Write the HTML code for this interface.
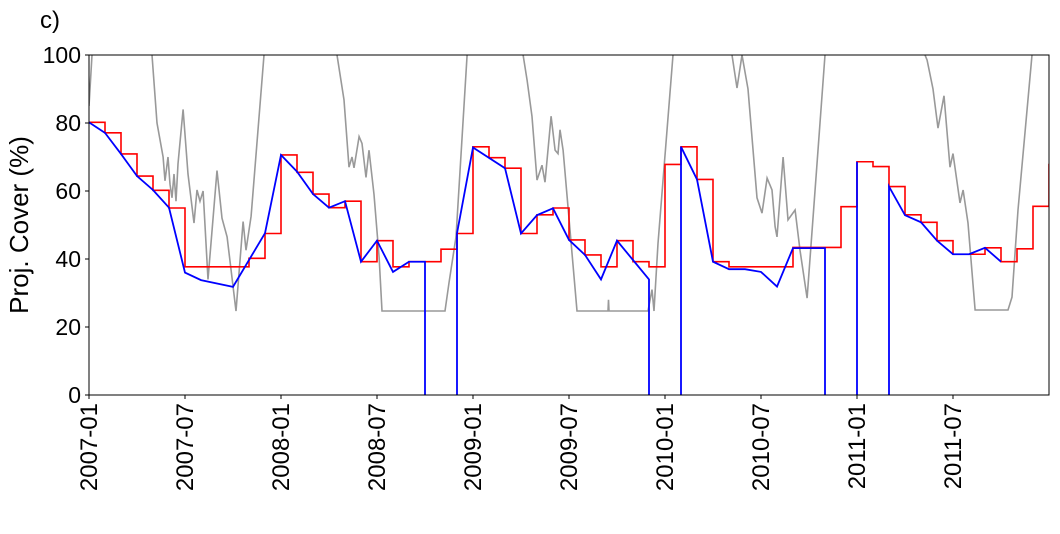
<!DOCTYPE html>
<html><head><meta charset="utf-8"><style>
body{margin:0;background:#fff;}
svg{display:block;font-family:"Liberation Sans","DejaVu Sans",sans-serif;}
</style></head><body>
<svg id="chart" width="1060" height="534" viewBox="0 0 1060 534">
<defs><clipPath id="clip"><rect x="89" y="55" width="960" height="340"/></clipPath></defs>
<text x="40" y="28" font-size="24">c)</text>
<text transform="translate(28,225) rotate(-90)" text-anchor="middle" font-size="26">Proj. Cover (%)</text>
<g id="series" clip-path="url(#clip)"></g>
<rect x="89" y="55" width="960" height="340" fill="none" stroke="#000" stroke-width="1"/>
<g id="axes"></g>
</svg>
<script>
const xTickLabels=["2007-01","2007-07","2008-01","2008-07","2009-01","2009-07","2010-01","2010-07","2011-01","2011-07"];
const xTickMonths=[0,6,12,18,24,30,36,42,48,54];
const yTicks=[0,20,40,60,80,100];
const redValues=[80.2,77.1,70.9,64.4,60.2,55,37.7,37.7,37.7,37.7,40.2,47.5,70.6,65.5,59.1,55.1,57,39.2,45.4,37.7,39.2,39.2,42.9,47.5,73,69.8,66.7,47.5,53,55,45.6,41.2,37.7,45.4,39.2,37.7,67.8,73,63.4,39.2,37.7,37.7,37.7,37.7,43.4,43.4,43.4,55.4,68.6,67.2,61.3,53,50.8,45.4,41.4,41.4,43.3,39.2,43,55.5];
const redEnd=68;
const blueMonths=[0,1,2,3,4,5,6,7,9,11,12,13,14,15,16,17,18,19,20,21,21,null,23,23,24,26,27,28,29,30,31,32,33,35,35,null,37,37,38,39,40,41,42,43,44,45,46,46,null,48,48,48,null,50,50,51,52,53,54,55,56,57];
const blueValues=[80.2,77.1,70.9,64.4,60.3,55.1,36,33.8,31.8,47.6,70.6,65.7,59.1,55.1,57,39.2,45.4,36.2,39.2,39.2,0,null,0,47.6,72.8,66.7,47.5,52.9,54.9,45.6,41.2,34,45.4,34,0,null,0,73,63.4,39.2,37,37,36.2,31.9,43.2,43.2,43.2,0,null,0,68.6,0,null,0,61.3,52.9,50.8,45.4,41.4,41.4,43.3,39.2];
const grayMonths=[0,.19,1.94,3.94,4.25,4.63,4.75,4.94,5.06,5.19,5.31,5.44,5.56,5.88,6.19,6.56,6.75,6.94,7.13,7.44,8,8.31,8.63,9.19,9.63,9.81,10.13,10.94,13.19,15.5,15.94,16.25,16.44,16.56,16.88,17.06,17.31,17.5,17.81,18.13,18.31,22.25,22.5,22.94,23.63,25.38,27.13,27.38,27.69,28,28.31,28.5,28.88,29.13,29.31,29.44,29.63,30.5,32.44,32.47,32.5,34.94,35.19,35.31,35.56,36.5,38.19,40.19,40.5,40.81,41.19,41.75,42.06,42.38,42.69,42.88,43,43.38,43.69,44.13,44.44,44.88,45.25,46,49.13,52.25,52.38,52.75,53.06,53.44,53.81,54,54.44,54.63,54.94,55.38,57.44,57.69,58.06,58.94,60.69];
const grayValues=[85,100,135,100,80,70,63,70,62,58,65,57,68,84,65,50.6,60.3,57,60,34,66,52,46.5,24.7,51,42.6,52.6,100,135,100,86.8,67,70,66.8,76,74,64,72,59,40.6,24.7,24.7,33,46.5,100,135,100,92.6,81.9,63.2,67.6,62.6,82,72,71,78,72,24.7,24.7,28,24.7,24.7,31,24.7,44.6,100,135,100,90.3,100,90,58,53.5,63.8,60.3,49.5,46.5,70,51.5,54.4,42.6,28.5,52,100,135,100,98.5,90,78.5,88,67,71,56.5,60.3,50.6,25,25,28.8,54.4,100,130];

const NS="http://www.w3.org/2000/svg";
const X=m=>89+m*16, Y=v=>395-v*3.4;
const series=document.getElementById('series'), axes=document.getElementById('axes');
function mk(tag,attrs,parent){const e=document.createElementNS(NS,tag);for(const k in attrs)e.setAttribute(k,attrs[k]);parent.appendChild(e);return e;}

let d=grayMonths.map((m,i)=>(i?'L':'M')+X(m).toFixed(1)+','+Y(grayValues[i]).toFixed(1)).join('');
let g=mk('path',{d:d,fill:'none',stroke:'#999','stroke-width':1.6},series);


d='M'+X(0)+','+Y(redValues[0]);
redValues.forEach((v,i)=>{d+='L'+X(i)+','+Y(v)+'L'+X(i+1)+','+Y(v);});
d+='L'+X(60)+','+Y(redEnd);
let r=mk('path',{d:d,fill:'none',stroke:'#f00','stroke-width':1.6},series);


d='';let pen=false;
blueMonths.forEach((m,i)=>{if(m===null){pen=false;return;}d+=(pen?'L':'M')+X(m)+','+Y(blueValues[i]);pen=true;});
let b=mk('path',{d:d,fill:'none',stroke:'#00f','stroke-width':1.8},series);



yTicks.forEach(v=>{
  let t=mk('line',{x1:85,x2:89,y1:Y(v),y2:Y(v),stroke:'#000'},axes);
  
  
  let l=mk('text',{x:81,y:Y(v)+8,'text-anchor':'end','font-size':23},axes);
  l.textContent=v;
  
  
});
xTickMonths.forEach((m,i)=>{
  let t=mk('line',{x1:X(m),x2:X(m),y1:395,y2:399,stroke:'#000'},axes);
  
  
  let l=mk('text',{transform:`translate(${X(m)+8},403) rotate(-90)`,'text-anchor':'end','font-size':24},axes);
  l.textContent=xTickLabels[i];
  
  
});
</script>
</body></html>
